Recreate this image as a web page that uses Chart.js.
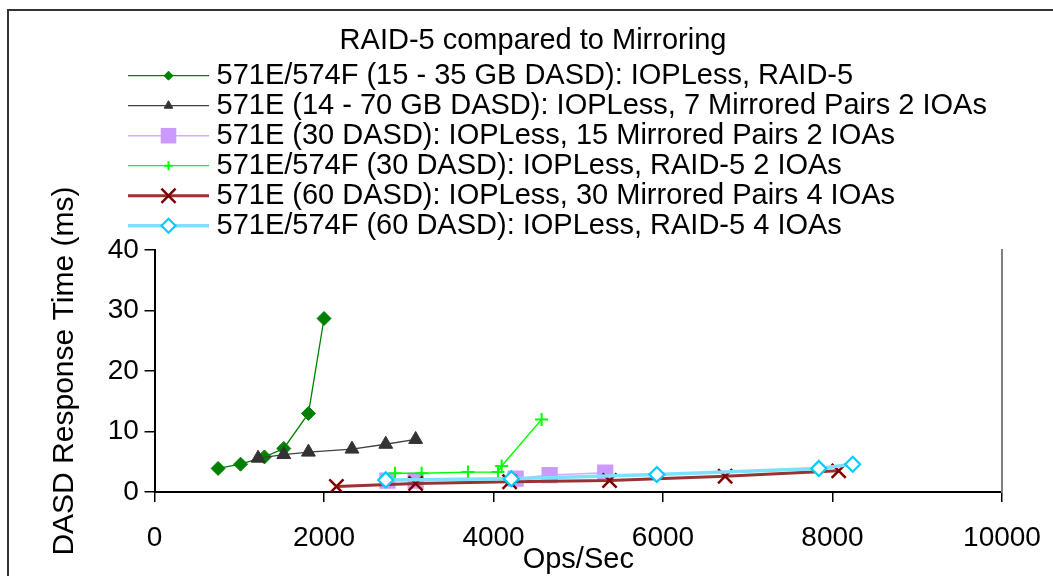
<!DOCTYPE html>
<html>
<head>
<meta charset="utf-8">
<script src="https://cdn.jsdelivr.net/npm/chart.js@4.4.1/dist/chart.umd.min.js"></script>
<style>
  html, body { margin: 0; padding: 0; background: #fff; overflow: hidden; }
  #wrap { position: relative; width: 1053px; height: 576px; }
  #frame { position: absolute; left: 7px; top: 9px; width: 1200px; height: 700px;
           border-left: 2px solid #333; border-top: 2px solid #333; pointer-events: none; }
  canvas { position: absolute; left: 0; top: 0; }
</style>
</head>
<body>
<div id="wrap">
  <canvas id="grafico" width="1053" height="576"></canvas>
  <div id="frame"></div>
</div>
<script>
// series labels
const seriesNames = [
    "571E/574F (15 - 35 GB DASD): IOPLess, RAID-5",
    "571E (14 - 70 GB DASD): IOPLess, 7 Mirrored Pairs 2 IOAs",
    "571E (30 DASD): IOPLess, 15 Mirrored Pairs 2 IOAs",
    "571E/574F (30 DASD): IOPLess, RAID-5 2 IOAs",
    "571E (60 DASD): IOPLess, 30 Mirrored Pairs 4 IOAs",
    "571E/574F (60 DASD): IOPLess, RAID-5 4 IOAs"
];

// Ops/Sec (x) e tempo de resposta (y)
const raid5X = [750, 1015, 1297, 1525, 1816, 2000];
const raid5Y = [3.9, 4.6, 5.8, 7.2, 13.0, 28.7];

const mirror7X = [1222, 1525, 1816, 2330, 2728, 3081];
const mirror7Y = [5.6, 6.2, 6.6, 7.1, 7.9, 8.7];

const mirror15X = [2748, 3081, 4261, 4662, 5318];
const mirror15Y = [1.9, 1.9, 2.2, 2.8, 3.2];

const raid5x2X = [2837, 3152, 3698, 4052, 4096, 4567];
const raid5x2Y = [3.1, 3.1, 3.3, 3.3, 4.3, 12.0];

const mirror30X = [2146, 3081, 4190, 5369, 6733, 8073];
const mirror30Y = [0.9, 1.4, 1.7, 1.9, 2.6, 3.5];

const raid5x4X = [2728, 4210, 5927, 7838, 8238];
const raid5x4Y = [2.0, 2.2, 2.9, 3.9, 4.6];

const xTicks = [0, 2000, 4000, 6000, 8000, 10000];
const yTicks = [0, 10, 20, 30, 40];

function pontos(xs, ys) {
    return xs.map((x, i) => ({ x: x, y: ys[i] }));
}

const FONTE = "'Liberation Sans', Arial, Helvetica, sans-serif";
Chart.defaults.font.family = FONTE;
Chart.defaults.font.size = 29;
Chart.defaults.color = "#000";

const LEGEND_BOX = 74;   // espaço reservado antes do texto
const LEGEND_LINE = 81;  // comprimento da linha desenhada
const legendRadius = [4.5, 5, 11, 4.5, 10, 7];

// desenha linha + marcador de cada item da legenda
const legendMarks = {
    id: "legendMarks",
    afterLayout(chart) {
        chart.legend.left = 127; // legenda alinhada à esquerda como no original
    },
    afterDraw(chart) {
        const ctx = chart.ctx;
        chart.legend.legendHitBoxes.forEach((box, i) => {
            const ds = chart.data.datasets[i];
            const y = box.top + box.height / 2;
            ctx.save();
            ctx.strokeStyle = ds.borderColor;
            ctx.lineWidth = ds.borderWidth;
            ctx.beginPath();
            ctx.moveTo(box.left, y);
            ctx.lineTo(box.left + LEGEND_LINE, y);
            ctx.stroke();
            ctx.fillStyle = ds.pointBackgroundColor;
            ctx.strokeStyle = ds.pointBorderColor;
            ctx.lineWidth = ds.pointBorderWidth;
            Chart.helpers.drawPoint(ctx, {
                pointStyle: ds.pointStyle,
                radius: legendRadius[i],
                borderWidth: ds.pointBorderWidth,
                rotation: 0
            }, box.left + LEGEND_LINE / 2, y);
            ctx.restore();
        });
    }
};

const estilos = [
    { line: "#008000", lw: 1.3, style: "rectRot", bg: "#008000", bd: "#008000", bw: 1, r: 7 },
    { line: "#404040", lw: 1.3, style: "triangle", bg: "#333333", bd: "#333333", bw: 1, r: 8 },
    { line: "#CDB0FA", lw: 1.5, style: "rect", bg: "#CC99FF", bd: "#CC99FF", bw: 0, r: 11.5 },
    { line: "#00FF00", lw: 1.3, style: "cross", bg: "#00FF00", bd: "#00FF00", bw: 2, r: 6.5 },
    { line: "#993333", lw: 3, style: "crossRot", bg: "#800000", bd: "#800000", bw: 2.5, r: 10 },
    { line: "#7FDFFF", lw: 3.5, style: "rectRot", bg: "#FFFFFF", bd: "#00CCFF", bw: 2.2, r: 7.5 }
];

const series = [
    pontos(raid5X, raid5Y),
    pontos(mirror7X, mirror7Y),
    pontos(mirror15X, mirror15Y),
    pontos(raid5x2X, raid5x2Y),
    pontos(mirror30X, mirror30Y),
    pontos(raid5x4X, raid5x4Y)
];

const datasets = series.map((data, i) => ({
    label: seriesNames[i],
    data: data,
    showLine: true,
    borderColor: estilos[i].line,
    borderWidth: estilos[i].lw,
    pointStyle: estilos[i].style,
    pointBackgroundColor: estilos[i].bg,
    pointBorderColor: estilos[i].bd,
    pointBorderWidth: estilos[i].bw,
    pointRadius: estilos[i].r,
    pointHoverRadius: estilos[i].r,
    order: series.length - i // séries posteriores por cima, como no Excel
}));

const ctx = document.getElementById("grafico").getContext("2d");

new Chart(ctx, {
    type: "scatter",
    data: { datasets: datasets },
    plugins: [legendMarks],
    options: {
        responsive: false,
        animation: false,
        layout: { autoPadding: false, padding: { left: 26, right: 13, top: 0, bottom: 1.5 } },
        plugins: {
            tooltip: { enabled: false },
            title: {
                display: true,
                text: "RAID-5 compared to Mirroring",
                font: { size: 29, weight: "normal" },
                color: "#000",
                padding: { top: 23.6, bottom: 1.8 }
            },
            legend: {
                display: true,
                position: "top",
                align: "start",
                labels: {
                    boxWidth: LEGEND_BOX,
                    boxHeight: 3,
                    padding: 1,
                    font: { size: 29 },
                    color: "#000",
                    generateLabels: (chart) => chart.data.datasets.map((ds, i) => ({
                        text: ds.label,
                        fillStyle: "rgba(0,0,0,0)",
                        strokeStyle: "rgba(0,0,0,0)",
                        lineWidth: 0,
                        hidden: false,
                        datasetIndex: i,
                        fontColor: "#000"
                    }))
                }
            }
        },
        scales: {
            x: {
                type: "linear",
                min: 0,
                max: 10000,
                afterBuildTicks: (axis) => { axis.ticks = xTicks.map(v => ({ value: v })); },
                grid: { drawOnChartArea: false, drawTicks: true, tickLength: 10, color: "#000", lineWidth: 1.5 },
                border: { color: "#000", width: 2 },
                // lineHeight alto empurra os rótulos para baixo sem aumentar a margem direita
                ticks: { padding: 2, font: { size: 28, lineHeight: "68px" }, maxRotation: 0, callback: (v) => String(v) },
                title: { display: true, text: "Ops/Sec", font: { size: 29, lineHeight: 1 }, padding: { top: -28.5, bottom: 0 } }
            },
            y: {
                type: "linear",
                min: 0,
                max: 40,
                afterBuildTicks: (axis) => { axis.ticks = yTicks.map(v => ({ value: v })); },
                grid: { drawOnChartArea: false, drawTicks: true, tickLength: 10, color: "#000", lineWidth: 1.5 },
                border: { color: "#000", width: 2 },
                ticks: { padding: 5.7, font: { size: 28 }, callback: (v) => String(v) },
                title: { display: true, text: "DASD Response Time (ms)", font: { size: 30 }, padding: { top: 21, bottom: 19 } }
            },
            y2: {
                type: "linear",
                position: "right",
                min: 0,
                max: 40,
                afterFit: (axis) => { axis.width = 38; }, // margem direita da área de plotagem
                grid: { display: false, drawTicks: false },
                ticks: { display: false },
                border: { color: "#808080", width: 2 }
            }
        }
    }
});
</script>
</body>
</html>
